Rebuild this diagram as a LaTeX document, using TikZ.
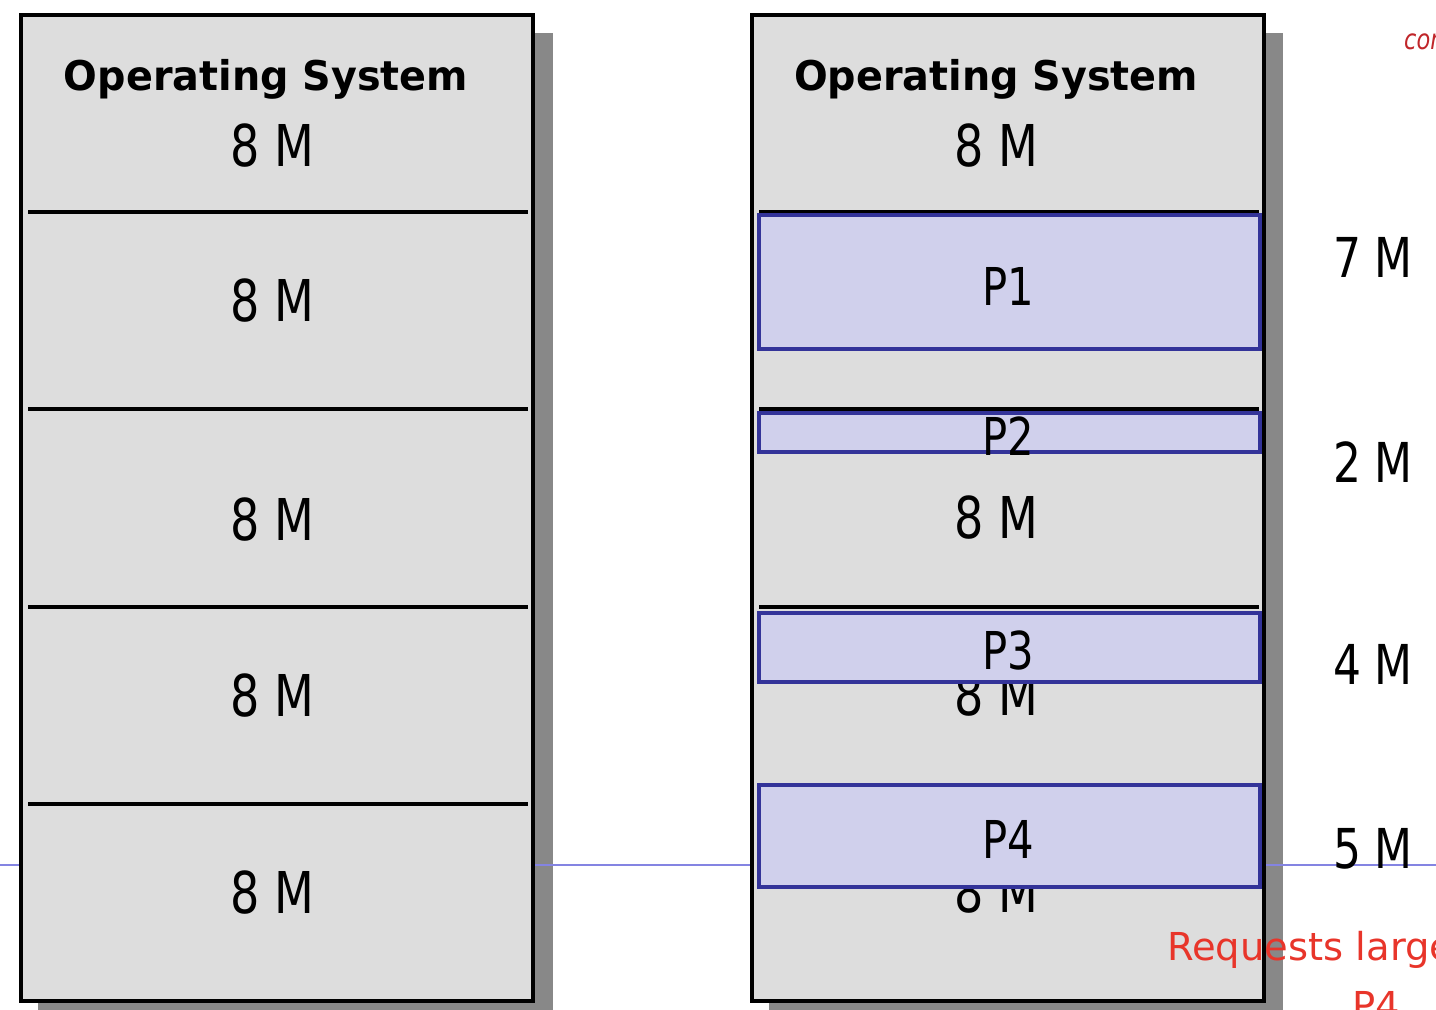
\documentclass[tikz,border=0pt]{standalone}
\usepackage{fontspec}
\setmainfont[FakeStretch=0.8]{DejaVu Sans}
\newfontfamily\titlefont[FakeStretch=0.97]{DejaVu Sans}
\newfontfamily\notefont{DejaVu Sans}
\usetikzlibrary{positioning}
\definecolor{memGray}{HTML}{DDDDDD}
\definecolor{shadowGray}{HTML}{888888}
\definecolor{procFill}{HTML}{D0D0EC}
\definecolor{procLine}{HTML}{333399}
\definecolor{guideBlue}{HTML}{8484E2}
\definecolor{noteRed}{HTML}{E8352A}
\definecolor{inkRed}{HTML}{C0262A}

\begin{document}
\begin{tikzpicture}[x=0.02cm, y=-0.02cm,
    membox/.style={draw=black, line width=2pt, fill=memGray},
    shadowbox/.style={fill=shadowGray},
    divider/.style={line width=2pt},
    procbox/.style={draw=procLine, line width=2pt, fill=procFill},
    ostitle/.style={anchor=base, font=\titlefont\bfseries\fontsize{23.3}{26}\selectfont},
    sizetext/.style={anchor=base, font=\fontsize{32.8}{36}\selectfont},
    proctext/.style={anchor=base, font=\fontsize{29.7}{33}\selectfont},
    holetext/.style={anchor=base, font=\fontsize{31.3}{35}\selectfont},
    notetext/.style={anchor=base west, text=noteRed, font=\notefont\fontsize{21.9}{24}\selectfont}]
    \useasboundingbox (0,0) rectangle (1436,1010);
    \clip (0,0) rectangle (1436,1010);

    % shadows, guide line, memory boxes
    \fill[shadowbox] (38,33) rectangle (553,1015);
    \fill[shadowbox] (769,33) rectangle (1283,1015);
    \draw[guideBlue, line width=0.6pt] (0,865) -- (1436,865);
    \draw[membox] (21,15) rectangle (533,1001);
    \draw[membox] (752,15) rectangle (1264,1001);

    \foreach \y in {212,409,607,804} {
        \draw[divider] (28,\y) -- (528,\y);
        \draw[divider] (759,\y) -- (1259,\y);
    }

    % fixed partitions
    \node[ostitle] (osLeft) at (266,91) {Operating System};
    \node[ostitle] (osRight) at (996,91) {Operating System};
    \foreach \y [count=\i] in {167,321,540,716,913}
        \node[sizetext] (partL\i) at (272,\y) {8 M};
    \foreach \y [count=\i] in {167,538,715,912}
        \node[sizetext] (partR\i) at (996,\y) {8 M};

    % loaded processes
    \draw[procbox] (759,215) rectangle (1260,349);
    \draw[procbox] (759,413) rectangle (1260,452);
    \draw[procbox] (759,613) rectangle (1260,682);
    \draw[procbox] (759,785) rectangle (1260,887);
    \node[proctext] (p1) at (1008,305) {P1};
    \node[proctext] (p2) at (1008,455) {P2};
    \node[proctext] (p3) at (1008,669) {P3};
    \node[proctext] (p4) at (1008,858) {P4};

    % wasted space
    \node[holetext] (hole1) at (1373,277) {7 M};
    \node[holetext] (hole2) at (1373,482) {2 M};
    \node[holetext] (hole3) at (1373,684) {4 M};
    \node[holetext] (hole4) at (1373,868) {5 M};

    \node[notetext] (request) at (1161,960) {Requests larger};
    \node[notetext] (reqP4) at (1346,1019) {P4};
    \node[anchor=base west, text=inkRed, font=\itshape\fontsize{16}{18}\selectfont] (cons) at (1398,50) {cons.};
\end{tikzpicture}
\end{document}
